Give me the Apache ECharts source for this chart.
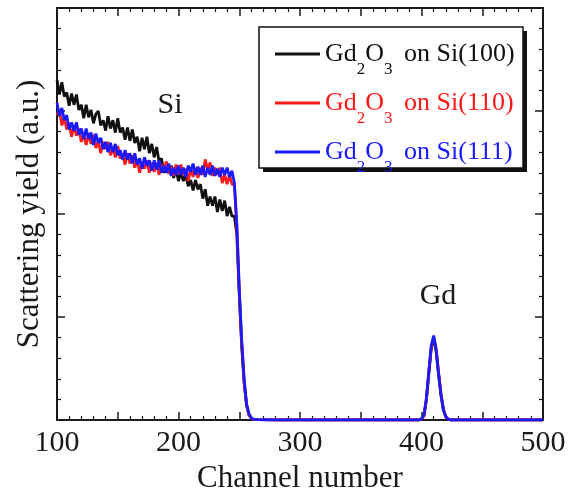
<!DOCTYPE html>
<html>
<head>
<meta charset="utf-8">
<script src="https://cdn.jsdelivr.net/npm/echarts@6/dist/echarts.min.js"></script>
<style>
  html, body { margin: 0; padding: 0; background: #fff; }
  #chart { width: 572px; height: 501px; }
</style>
</head>
<body>
<div id="chart"></div>
<script>
// RBS spectra: channel number vs scattering yield (arbitrary units)
const channels = [
  100,102,104,106,108,110,112,114,116,118,120,122,124,126,128,130,132,134,136,138,
  140,142,144,146,148,150,152,154,156,158,160,162,164,166,168,170,172,174,176,178,
  180,182,184,186,188,190,192,194,196,198,200,202,204,206,208,210,212,214,216,218,
  220,222,224,226,228,230,232,234,236,238,240,242,244,246,248,
  250,252,254,256,258,260,262,266,280,320,360,390,398,
  400,402,404,406,408,410,412,414,416,418,420,422,424,430,460,500
];

const yieldSi100 = [
  3.30,3.16,3.28,3.14,3.18,3.05,3.17,3.06,3.16,3.01,3.06,2.93,3.06,2.94,3.01,2.88,2.97,3.00,2.86,2.91,
  2.81,2.95,2.83,2.91,2.79,2.93,2.79,2.84,2.72,2.84,2.71,2.82,2.69,2.75,2.61,2.74,2.63,2.75,2.59,2.68,
  2.55,2.65,2.51,2.54,2.40,2.48,2.40,2.47,2.35,2.43,2.32,2.41,2.32,2.38,2.27,2.33,2.23,2.33,2.24,2.29,
  2.15,2.24,2.08,2.17,2.08,2.17,2.02,2.14,2.03,2.13,1.98,2.07,1.98,1.98,1.80,
  1.22,0.72,0.36,0.14,0.05,0.015,0.005,0.003,0,0,0,0,0,
  0.01,0.04,0.19,0.44,0.69,0.80,0.67,0.44,0.24,0.10,0.03,0.01,0,0,0,0
];

const yieldSi110 = [
  2.96,3.01,2.86,2.94,2.82,2.88,2.75,2.86,2.76,2.83,2.70,2.77,2.67,2.78,2.68,2.77,2.64,2.71,2.59,2.70,
  2.63,2.70,2.57,2.64,2.55,2.66,2.54,2.58,2.48,2.59,2.49,2.57,2.45,2.53,2.40,2.50,2.44,2.52,2.40,2.50,
  2.41,2.50,2.38,2.48,2.42,2.51,2.39,2.46,2.37,2.48,2.39,2.48,2.38,2.44,2.32,2.44,2.36,2.45,2.35,2.45,
  2.38,2.53,2.43,2.50,2.37,2.45,2.38,2.45,2.30,2.38,2.29,2.38,2.29,2.28,1.88,
  1.25,0.75,0.38,0.15,0.05,0.015,0.005,0.003,0,0,0,0,0,
  0.01,0.04,0.20,0.46,0.71,0.80,0.70,0.47,0.26,0.11,0.03,0.01,0,0,0,0
];

const yieldSi111 = [
  3.08,2.95,3.03,2.91,2.96,2.82,2.89,2.81,2.89,2.77,2.83,2.73,2.83,2.73,2.79,2.67,2.78,2.69,2.74,2.63,
  2.70,2.60,2.69,2.60,2.68,2.57,2.62,2.53,2.62,2.53,2.59,2.49,2.59,2.48,2.54,2.44,2.55,2.47,2.52,2.42,
  2.52,2.43,2.52,2.40,2.47,2.40,2.49,2.37,2.45,2.38,2.47,2.38,2.45,2.36,2.47,2.41,2.49,2.38,2.46,2.38,
  2.47,2.36,2.45,2.38,2.47,2.37,2.44,2.36,2.45,2.38,2.45,2.36,2.42,2.30,1.90,
  1.28,0.78,0.40,0.16,0.06,0.02,0.006,0.003,0,0,0,0,0,
  0.01,0.05,0.21,0.47,0.72,0.82,0.69,0.46,0.25,0.10,0.03,0.01,0,0,0,0
];

const seriesNames = ['Gd2O3 on Si(100)', 'Gd2O3 on Si(110)', 'Gd2O3 on Si(111)'];
const seriesColors = ['#111111', '#ff1a1a', '#1a1aff'];
const substrates = ['Si(100)', 'Si(110)', 'Si(111)'];
const xTickLabels = ['100', '200', '300', '400', '500'];

const FONT = '"Liberation Serif", "Times New Roman", serif';

function pairs(values) {
  return values.map((v, i) => [channels[i], v]);
}

const chart = echarts.init(document.getElementById('chart'), null, { renderer: 'canvas' });

// rich text styles for the legend: main text, subscripts, and the trailing part
const richKeys = ['k', 'r', 'b'];
const rich = {};
richKeys.forEach((k, i) => {
  rich[k] = { color: seriesColors[i], fontSize: 26, fontFamily: FONT, lineHeight: 30 };
  rich[k + 's'] = { color: seriesColors[i], fontSize: 17, fontFamily: FONT, padding: [16, 0, -16, 0] };
  rich[k + 't'] = { color: seriesColors[i], fontSize: 26, fontFamily: FONT, lineHeight: 30, padding: [0, 0, 0, 5] };
});

const axisLineStyle = { color: '#1a1a1a', width: 2 };

function xAxisCfg(pos, showLabel) {
  return {
    type: 'value', position: pos, min: 100, max: 500, interval: 50,
    axisLine: { show: true, onZero: false, lineStyle: axisLineStyle },
    axisTick: { show: true, inside: true, length: 8, lineStyle: { color: '#1a1a1a', width: 1.5 } },
    minorTick: { show: true, splitNumber: 5, length: 4, lineStyle: { color: '#1a1a1a', width: 1.2 } },
    splitLine: { show: false },
    axisLabel: {
      show: showLabel, margin: 8, fontSize: 30, fontFamily: FONT, color: '#1a1a1a',
      formatter: v => (xTickLabels.indexOf(String(v)) >= 0 ? String(v) : '')
    }
  };
}

function yAxisCfg(pos) {
  return {
    type: 'value', position: pos, min: 0, max: 4, interval: 1,
    axisLine: { show: true, onZero: false, lineStyle: axisLineStyle },
    axisTick: { show: true, inside: true, length: 8, lineStyle: { color: '#1a1a1a', width: 1.5 } },
    minorTick: { show: true, splitNumber: 5, length: 4, lineStyle: { color: '#1a1a1a', width: 1.2 } },
    splitLine: { show: false },
    axisLabel: { show: false }
  };
}

const xBottom = xAxisCfg('bottom', true);
xBottom.name = 'Channel number';
xBottom.nameLocation = 'middle';
xBottom.nameGap = 38;
xBottom.nameTextStyle = { fontSize: 31, fontFamily: FONT, color: '#1a1a1a' };

const yLeft = yAxisCfg('left');
yLeft.name = 'Scattering yield (a.u.)';
yLeft.nameLocation = 'middle';
yLeft.nameGap = 12;
yLeft.nameTextStyle = { fontSize: 31, fontFamily: FONT, color: '#1a1a1a' };

const yieldSets = [yieldSi100, yieldSi110, yieldSi111];

chart.setOption({
  animation: false,
  backgroundColor: '#ffffff',
  grid: { left: 57, right: 29, top: 8, bottom: 81, containLabel: false },
  xAxis: [xBottom, xAxisCfg('top', false)],
  yAxis: [yLeft, yAxisCfg('right')],
  legend: {
    orient: 'vertical', left: 270, top: 36, z: 10,
    itemWidth: 45, itemHeight: 3, itemGap: 11.5, icon: 'rect',
    data: seriesNames,
    formatter: name => {
      const i = seriesNames.indexOf(name);
      const k = richKeys[i];
      return `{${k}|Gd}{${k}s|2}{${k}|O}{${k}s|3}{${k}t| on ${substrates[i]}}`;
    },
    textStyle: { rich: rich, fontFamily: FONT }
  },
  graphic: [
    // legend frame with a drop shadow
    { type: 'rect', z: 3, shape: { x: 263, y: 31, width: 264, height: 141 }, style: { fill: '#111' } },
    { type: 'rect', z: 3, shape: { x: 259, y: 27, width: 264, height: 141 }, style: { fill: '#fff', stroke: '#111', lineWidth: 1.5 } },
    { type: 'text', z: 5, style: { text: 'Si', x: 170, y: 105, align: 'center', verticalAlign: 'middle', font: '30px ' + FONT, fill: '#1a1a1a' } },
    { type: 'text', z: 5, style: { text: 'Gd', x: 438, y: 296, align: 'center', verticalAlign: 'middle', font: '30px ' + FONT, fill: '#1a1a1a' } }
  ],
  series: yieldSets.map((vals, i) => ({
    name: seriesNames[i],
    type: 'line',
    data: pairs(vals),
    showSymbol: false,
    symbol: 'none',
    lineStyle: { color: seriesColors[i], width: 2.8 },
    itemStyle: { color: seriesColors[i] },
    z: 2 + i * 0.1
  }))
});
</script>
</body>
</html>
